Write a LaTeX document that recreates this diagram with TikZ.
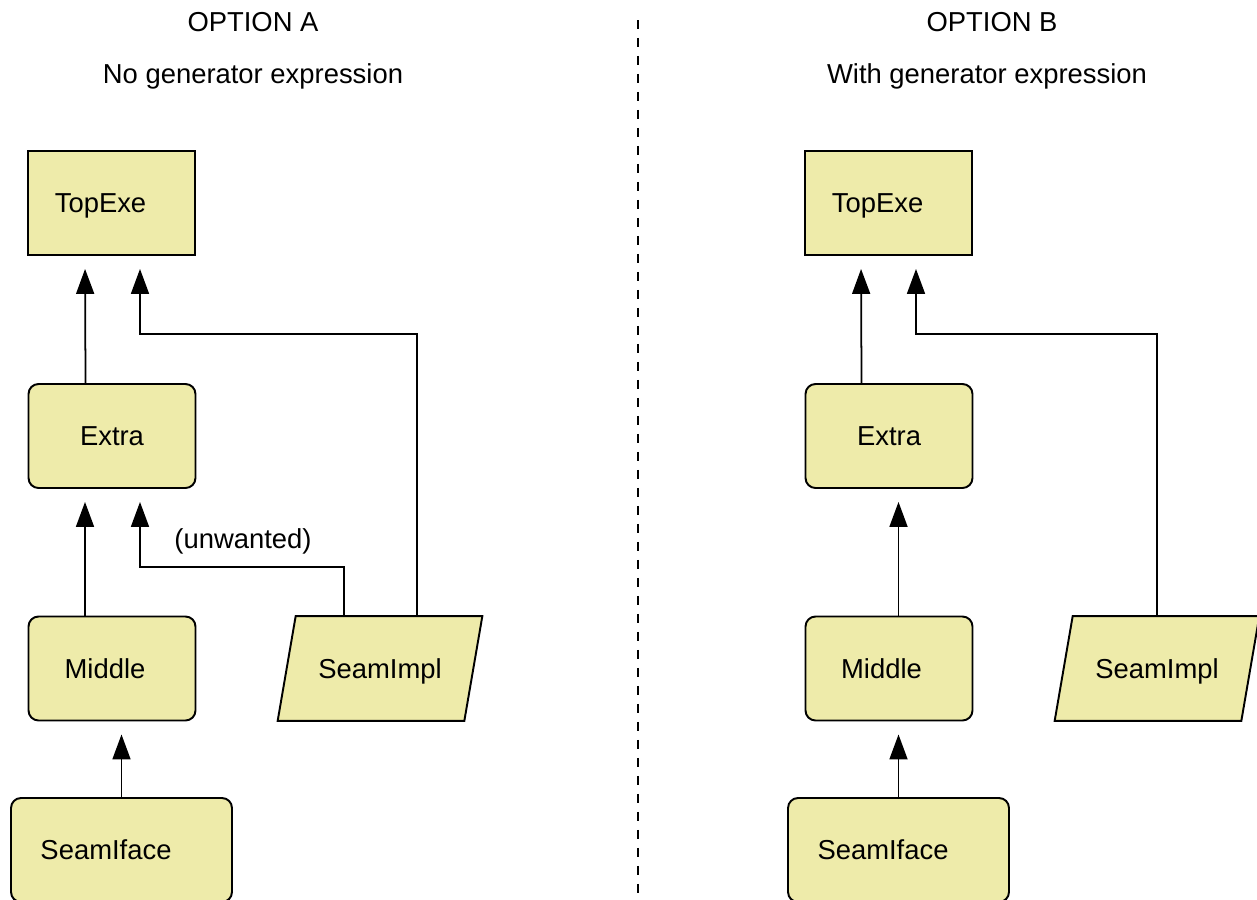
\documentclass[tikz,border=0pt]{standalone}
\usepackage{fontspec}
\setmainfont{Liberation Sans}
\usetikzlibrary{positioning}
\usetikzlibrary{arrows.meta}
\usetikzlibrary{calc}
\usepackage{xcolor}
\definecolor{boxfill}{RGB}{238,235,170}

\begin{document}
\begin{tikzpicture}[x=0.02cm, y=-0.02cm, >={Triangle[length=0.5cm, width=0.36cm]},
    every node/.style={font=\fontsize{15.6}{18}\selectfont},
    exebox/.style={draw, fill=boxfill, line width=1.1pt, minimum width=3.34cm, minimum height=2.08cm, inner sep=0pt},
    libbox/.style={exebox, rounded corners=0.2cm},
    widebox/.style={minimum width=4.42cm},
    implbox/.style={draw, fill=boxfill, line width=1.1pt},
    dep/.style={->, line width=1pt, shorten >=0.26cm}]
    \useasboundingbox (0,0) rectangle (1257,899);

    % option A
    \node (optA) at (253,31.5) [anchor=base] {OPTION A};
    \node (subA) at (253,83) [anchor=base] {No generator expression};
    \node[exebox, label={[xshift=-0.22cm, yshift=-0.05cm]center:TopExe}] (topA) at (111.5,203) {};
    \node[libbox] (extraA) at (112,436) {Extra};
    \node[libbox, label={[xshift=-0.14cm]center:Middle}] (midA) at (112,668.5) {};
    \node[libbox, widebox, label={[xshift=-0.31cm]center:SeamIface}] (ifaceA) at (121.5,850) {};
    \node[minimum width=3.72cm, minimum height=2.08cm, inner sep=0pt] (implA) at (380,668.5) {};
    \draw[implbox] ($(implA.north west)+(9,0)$) -- ($(implA.north east)+(9,0)$)
        -- ($(implA.south east)+(-9,0)$) -- ($(implA.south west)+(-9,0)$) -- cycle;
    \node[yshift=-0.05cm] (implAtext) at (implA) {SeamImpl};

    \draw[dep] ([xshift=-0.53cm]extraA.north) -- ([xshift=-0.53cm]topA.south);
    \draw[dep] ([xshift=0.74cm]implA.north) |- ([xshift=0.57cm, yshift=-1.56cm]topA.south)
        -- ([xshift=0.57cm]topA.south);
    \draw[dep] ([xshift=-0.54cm]midA.north) -- ([xshift=-0.54cm]extraA.south);
    \draw[dep] ([xshift=-0.72cm]implA.north) |- ([xshift=0.56cm, yshift=-1.56cm]extraA.south)
        -- ([xshift=0.56cm]extraA.south);
    \node (unwA) at (243,541) {(unwanted)};
    \draw[dep] (ifaceA.north) -- (ifaceA.north |- midA.south);

    % divider
    \coordinate (divtop) at (638,20);
    \coordinate (divbot) at (638,899);
    \draw[line width=1pt, dash pattern=on 0.18cm off 0.18cm] (divtop) -- (divbot);

    % option B
    \node (optB) at (992,31.5) [anchor=base] {OPTION B};
    \node (subB) at (987,83) [anchor=base] {With generator expression};
    \node[exebox, label={[xshift=-0.22cm, yshift=-0.05cm]center:TopExe}] (topB) at (888.5,203) {};
    \node[libbox] (extraB) at (889,436) {Extra};
    \node[libbox, label={[xshift=-0.15cm]center:Middle}] (midB) at (889,668.5) {};
    \node[libbox, widebox, label={[xshift=-0.31cm]center:SeamIface}] (ifaceB) at (898.5,850) {};
    \node[minimum width=3.72cm, minimum height=2.08cm, inner sep=0pt] (implB) at (1157,668.5) {};
    \draw[implbox] ($(implB.north west)+(9,0)$) -- ($(implB.north east)+(9,0)$)
        -- ($(implB.south east)+(-9,0)$) -- ($(implB.south west)+(-9,0)$) -- cycle;
    \node[yshift=-0.05cm] (implBtext) at (implB) {SeamImpl};

    \draw[dep] ([xshift=-0.55cm]extraB.north) -- ([xshift=-0.55cm]topB.south);
    \draw[dep] (implB.north) |- ([xshift=0.55cm, yshift=-1.56cm]topB.south)
        -- ([xshift=0.55cm]topB.south);
    \draw[dep] (midB.north -| ifaceB.north) -- (extraB.south -| ifaceB.north);
    \draw[dep] (ifaceB.north) -- (ifaceB.north |- midB.south);
\end{tikzpicture}
\end{document}
